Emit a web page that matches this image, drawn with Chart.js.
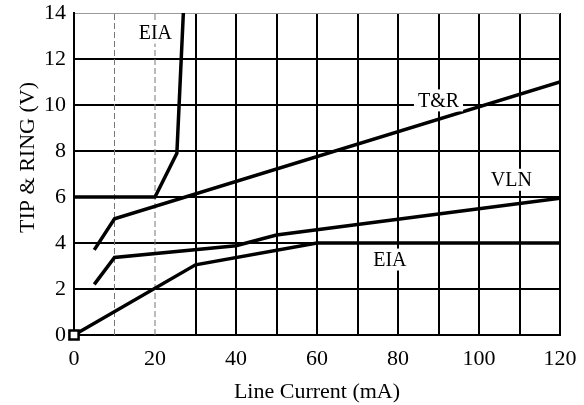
<!DOCTYPE html>
<html>
<head>
<meta charset="utf-8">
<script src="https://cdn.jsdelivr.net/npm/chart.js@4"></script>
<style>
  html, body { margin: 0; padding: 0; background: #fff; }
</style>
</head>
<body>
<canvas id="chart" width="584" height="405"></canvas>
<script>
const ctx = document.getElementById("chart");

// EIA (steep curve, top left)
const eiaUpperX = [0, 20, 25.4, 27];
const eiaUpperY = [6, 6, 7.9, 14];

// T&R
const trX = [5, 10, 120];
const trY = [3.7, 5.05, 11];

// VLN
const vlnX = [5, 10, 40, 50, 120];
const vlnY = [2.2, 3.37, 3.88, 4.35, 5.95];

// EIA (lower curve)
const eiaLowerX = [0, 30, 60, 120];
const eiaLowerY = [0, 3.05, 4, 4];

// curve labels
const labelText = ["EIA", "T&R", "VLN", "EIA"];
const labelX = [20.1, 90, 108, 78];
const labelY = [13.15, 10.2, 6.75, 3.28];

// dashed reference lines
const dashedX = [10, 20];

const FONT = '"Liberation Serif", "Times New Roman", serif';

function points(xs, ys) {
  return xs.map((x, i) => ({ x: x, y: ys[i] }));
}

function curve(xs, ys) {
  return {
    data: points(xs, ys),
    borderColor: "#000",
    borderWidth: 3.5,
    pointRadius: 0,
    tension: 0,
    fill: false,
    order: 0,
  };
}

const datasets = [
  curve(eiaUpperX, eiaUpperY),
  curve(trX, trY),
  curve(vlnX, vlnY),
  curve(eiaLowerX, eiaLowerY),
  {
    data: [{ x: 0, y: 0 }],
    showLine: false,
    clip: false,
    order: -1,
    pointStyle: "rect",
    pointRadius: 6.5,
    pointBackgroundColor: "#fff",
    pointBorderColor: "#000",
    pointBorderWidth: 2.5,
  },
];

dashedX.forEach((x) => {
  datasets.push({
    data: [{ x: x, y: 0 }, { x: x, y: 14 }],
    borderColor: "#777",
    borderWidth: 1,
    borderDash: [6, 3],
    pointRadius: 0,
    order: 1,
  });
});

// the original axis text is set a little loose
const spacing = {
  id: "spacing",
  beforeInit(chart) {
    chart.ctx.letterSpacing = "1px";
  },
};

const curveLabels = {
  id: "curveLabels",
  afterDatasetsDraw(chart) {
    const c = chart.ctx;
    const xs = chart.scales.x;
    const ys = chart.scales.y;
    c.save();
    c.letterSpacing = "0px";
    c.font = "20px " + FONT;
    c.textAlign = "center";
    c.textBaseline = "middle";
    labelText.forEach((t, i) => {
      const px = xs.getPixelForValue(labelX[i]);
      const py = ys.getPixelForValue(labelY[i]);
      const w = c.measureText(t).width;
      c.fillStyle = "#fff";
      c.fillRect(px - w / 2 - 4, py - 11, w + 8, 22);
      c.fillStyle = "#000";
      c.fillText(t, px, py + 1);
    });
    c.restore();
  },
};

new Chart(ctx, {
  type: "line",
  data: { datasets: datasets },
  options: {
    responsive: false,
    animation: false,
    layout: { padding: { top: 13, right: 24, left: 0, bottom: 0 } },
    plugins: {
      legend: { display: false },
      tooltip: { enabled: false },
    },
    scales: {
      x: {
        type: "linear",
        min: 0,
        max: 120,
        afterFit: (s) => { s.height = 70; },
        border: { display: true, color: "#000", width: 2 },
        grid: {
          drawTicks: false,
          lineWidth: 2,
          color: (c) => (c.tick && (c.tick.value === 10 || c.tick.value === 20) ? "rgba(0,0,0,0)" : "#000"),
        },
        ticks: {
          stepSize: 10,
          padding: 0,
          color: "#000",
          font: { family: FONT, size: 22, lineHeight: "49px" },
          callback: (v) => (v % 20 === 0 ? v : ""),
          maxRotation: 0,
          autoSkip: false,
        },
        title: {
          display: true,
          text: "Line Current (mA)",
          color: "#000",
          font: { family: FONT, size: 22 },
          padding: { top: 0, bottom: 0 },
        },
      },
      y: {
        min: 0,
        max: 14,
        afterFit: (s) => { s.width = 74; },
        border: { display: true, color: "#000", width: 2 },
        grid: {
          drawTicks: false,
          lineWidth: (c) => (c.tick && c.tick.value === 14 ? 1 : 2),
          color: (c) => (c.tick && c.tick.value === 14 ? "#999" : "#000"),
        },
        ticks: {
          stepSize: 2,
          padding: 8,
          color: "#000",
          font: { family: FONT, size: 22, lineHeight: "8px" },
        },
        title: {
          display: true,
          text: "\u00A0\u00A0\u00A0\u00A0\u00A0\u00A0TIP & RING (V)",
          color: "#000",
          font: { family: FONT, size: 22 },
          padding: { top: 15, bottom: 0 },
        },
      },
    },
  },
  plugins: [spacing, curveLabels],
});
</script>
</body>
</html>
